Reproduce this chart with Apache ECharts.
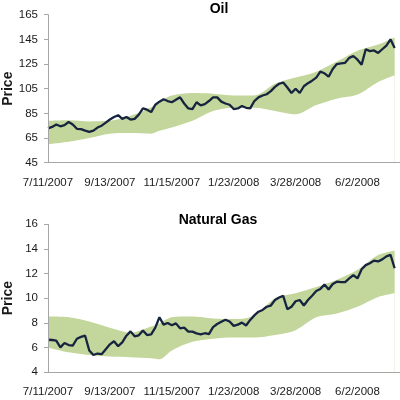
<!DOCTYPE html>
<html>
<head>
<meta charset="utf-8">
<script src="https://cdn.jsdelivr.net/npm/echarts@6/dist/echarts.min.js"></script>
<style>html,body{margin:0;padding:0;background:#fff}#c{width:400px;height:400px}</style>
</head>
<body>
<div id="c"></div>
<script>
// x tick labels (every 15 samples; each sample = 3 trading days)
const dates = ['7/11/2007','9/13/2007','11/15/2007','1/23/2008','3/28/2008','6/2/2008'];

// Oil price, one value per sample
const oilPrice = [72.9,74,76,74.5,75.5,78,76,72.5,72.2,71,
  70,71,73.5,75,77.5,80,82,83.5,80.5,82,
  80,80.5,84,89,88,86,92,94.5,96.5,95,
  94,96,98,93,89,88.5,94,91.5,92.5,95,
  98,98,94.5,93,92,88.5,89,91,89.5,89,
  95,98,99.5,100.5,103,106.5,109,110,106,101.5,
  105,101.5,107,109.5,111.5,114,118.8,117.5,114.7,121,
  125,125.5,126,130,131.5,128.5,124.5,137,135.5,136,
  134,137,140,145,138];

// Natural gas price, one value per sample
const gasPrice = [6.62,6.6,6.55,6.0,6.35,6.19,6.15,6.7,6.85,6.95,
  5.75,5.38,5.5,5.45,5.85,6.25,6.5,6.1,6.4,6.95,
  7.3,6.9,6.98,7.38,7.0,7.05,7.6,8.45,7.85,7.98,
  7.8,7.95,7.55,7.6,7.28,7.28,7.14,7.05,7.15,7.08,
  7.65,7.9,8.08,8.25,8.1,7.75,7.85,8.01,7.78,8.23,
  8.6,8.9,9.04,9.3,9.4,9.85,10.05,10.18,9.1,9.3,
  9.75,9.85,9.4,9.85,10.2,10.58,10.75,11.1,10.7,11.15,
  11.34,11.3,11.3,11.6,11.88,11.6,12.35,12.68,12.83,13.05,
  12.98,13.15,13.4,13.51,12.43];

// band samples (sample index where the band edges were read)
const bandIdx  = [0,5,10,15,20,25,27,30,35,40,45,50,55,60,65,70,75,80,84];
const oilUpper = [79,79.5,78.5,79,83,90,94.5,99.5,101.5,101,99.5,99.5,109,114,118.8,127,135.8,140.8,146.5];
const oilLower = [60,62,65,68.5,69,68.5,70.9,73.6,79,86.9,89.5,89.5,86.9,84.2,91.7,96.9,100.2,110.5,116];
const gasUpper = [8.5,8.45,8.1,7.6,7.2,7.7,7.95,8.45,8.5,8.35,8.3,8.6,10.0,10.4,10.9,11.5,12.3,13.5,13.85];
const gasLower = [6.0,5.6,5.38,5.25,5.2,5.12,5.03,5.75,6.45,6.7,6.8,6.8,7.0,7.4,8.44,8.75,9.3,10.1,10.4];

const LINE = '#16243f', BAND = '#c3d69b', AXIS = '#a6a6a6', TXT = '#1a1a1a';
const FONT = 'Liberation Sans';

function xAx(gi){
  return {type:'value', gridIndex:gi, min:0, max:85.3, interval:15, z:10,
    axisLine:{lineStyle:{color:AXIS,width:1}}, axisTick:{show:false}, splitLine:{show:false},
    axisLabel:{margin:14, color:TXT, fontFamily:FONT, fontSize:11.5, showMaxLabel:false, hideOverlap:false,
      formatter:function(v){const k=v/15; return (Number.isInteger(k)&&dates[k])?dates[k]:'';}}};
}
function yAx(gi,min,max,iv){
  return {type:'value', gridIndex:gi, min:min, max:max, interval:iv, z:10,
    name:'Price', nameLocation:'middle', nameGap:33, nameMoveOverlap:false,
    nameTextStyle:{fontFamily:FONT, fontWeight:'bold', fontSize:14, color:TXT},
    axisLine:{show:true, lineStyle:{color:AXIS,width:1}},
    axisTick:{show:true, length:4, lineStyle:{color:AXIS}},
    splitLine:{show:false},
    axisLabel:{margin:10, color:TXT, fontFamily:FONT, fontSize:11.5}};
}
// band: green area under the upper edge, masked with white under the lower edge
function bandSeries(gi, lower, upper){
  return [
    {type:'line', xAxisIndex:gi, yAxisIndex:gi, symbol:'none', smooth:0.3,
     lineStyle:{width:0, opacity:0}, areaStyle:{color:BAND, opacity:1}, silent:true, z:1,
     data: bandIdx.map((x,k)=>[x, upper[k]])},
    {type:'line', xAxisIndex:gi, yAxisIndex:gi, symbol:'none', smooth:0.3,
     lineStyle:{width:0, opacity:0}, areaStyle:{color:'#ffffff', opacity:1}, silent:true, z:2,
     data: bandIdx.map((x,k)=>[x, lower[k]])}
  ];
}
function priceSeries(gi, vals){
  return {type:'line', xAxisIndex:gi, yAxisIndex:gi, symbol:'none', z:3,
    lineStyle:{color:LINE, width:2.3}, data: vals.map((v,i)=>[i,v])};
}

const chart = echarts.init(document.getElementById('c'), null, {renderer:'canvas'});
chart.setOption({
  animation:false,
  backgroundColor:'#fff',
  title:[
    {text:'Oil', left:219, top:2, textAlign:'center', padding:0,
     textStyle:{fontFamily:FONT, fontWeight:'bold', fontSize:14, color:'#000'}},
    {text:'Natural Gas', left:218, top:213, textAlign:'center', padding:0,
     textStyle:{fontFamily:FONT, fontWeight:'bold', fontSize:14, color:'#000'}}
  ],
  grid:[
    {left:48, top:14.7, width:352, height:148, containLabel:false, outerBoundsMode:'none'},
    {left:48, top:224.3, width:352, height:147.7, containLabel:false, outerBoundsMode:'none'}
  ],
  xAxis:[xAx(0), xAx(1)],
  yAxis:[yAx(0,45,165,20), yAx(1,4,16,2)],
  series:[].concat(
    bandSeries(0, oilLower, oilUpper),
    [priceSeries(0, oilPrice)],
    bandSeries(1, gasLower, gasUpper),
    [priceSeries(1, gasPrice)]
  )
});
</script>
</body>
</html>
